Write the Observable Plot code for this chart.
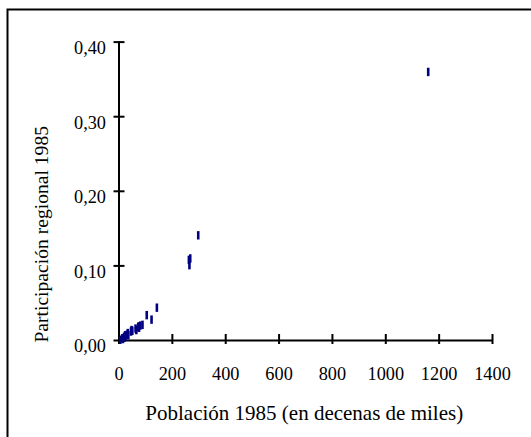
<!DOCTYPE html>
<html>
<head>
<meta charset="utf-8">
<script src="https://cdn.jsdelivr.net/npm/d3@7"></script>
<script src="https://cdn.jsdelivr.net/npm/@observablehq/plot@0.6"></script>
<style>
  html, body { margin: 0; padding: 0; background: #fff; }
  #chart { position: relative; width: 531px; height: 437px; }
  #chart svg, #chart svg text { font-family: "Liberation Serif", "Times New Roman", serif !important; }
</style>
</head>
<body>
<div id="chart"></div>
<script>
// Población 1985 (decenas de miles) and participación regional 1985
const poblacion = [1159, 297, 262, 267, 264, 142, 104, 122,
  5, 12, 15, 19, 22, 23, 24, 30, 33, 35, 45, 47, 50, 62, 65, 72, 74, 75, 80, 88];
const participacion = [0.360, 0.141, 0.108, 0.110, 0.101, 0.044, 0.034, 0.028,
  0.001, 0.003, 0.002, 0.005, 0.004, 0.007, 0.006, 0.008, 0.010, 0.007, 0.012, 0.014, 0.013, 0.016, 0.014, 0.018, 0.019, 0.017, 0.020, 0.021];

const xTicks = [0, 200, 400, 600, 800, 1000, 1200, 1400];
const yTicks = [0, 0.1, 0.2, 0.3, 0.4];
const xTitle = "Población 1985 (en decenas de miles)";
const yTitle = "Participación regional 1985";

const data = poblacion.map((p, i) => ({x: p, y: participacion[i]}));

const W = 531, H = 437;
const mL = 118.5, mR = 39, mT = 41.6, mB = 97;
const pxX = (W - mL - mR) / 1400;   // px per x unit
const pxY = (H - mT - mB) / 0.4;    // px per y unit
const serif = "Liberation Serif, Times New Roman, serif";

const dash = { draw(ctx) { ctx.rect(-1.3, -4.2, 2.6, 8.4); } };
const fmt = d => d.toFixed(2).replace(".", ",");

const plot = Plot.plot({
  width: W, height: H,
  marginLeft: mL, marginRight: mR, marginTop: mT, marginBottom: mB,
  style: "font-family: 'Liberation Serif', 'Times New Roman', serif; font-size: 18px; background: #fff; color: #000;",
  x: { domain: [0, 1400], axis: null },
  y: { domain: [0, 0.4], axis: null },
  marks: [
    // axis lines
    Plot.ruleY([0], { stroke: "#000", strokeWidth: 2 }),
    Plot.ruleX([0], { stroke: "#000", strokeWidth: 2 }),
    // crossing ticks
    Plot.ruleX(xTicks, { x: d => d, y1: -4 / pxY, y2: 6 / pxY, stroke: "#000", strokeWidth: 2 }),
    Plot.ruleY(yTicks, { y: d => d, x1: -5 / pxX, x2: 6 / pxX, stroke: "#000", strokeWidth: 2 }),
    // tick labels
    Plot.axisX(xTicks, { tickSize: 0, tickPadding: 0, dy: 34, textAnchor: "middle", tickFormat: d => String(d), label: null, fontSize: 18.3, fontFamily: serif, lineAnchor: "middle" }),
    Plot.axisY(yTicks, { tickSize: 0, tickPadding: 13, dy: 6, tickFormat: fmt, label: null, fontSize: 18.3, fontFamily: serif }),
    // axis titles
    Plot.text([xTitle], { frameAnchor: "bottom", text: d => d, dx: -1.5, dy: 73, fontSize: 21, fontFamily: serif, textAnchor: "middle", lineAnchor: "middle" }),
    Plot.text([yTitle], { frameAnchor: "left", text: d => d, dx: -77.5, dy: 43, rotate: -90, fontSize: 19.6, fontFamily: serif, textAnchor: "middle", lineAnchor: "middle" }),
    // data
    Plot.dot(data, { x: "x", y: "y", symbol: dash, fill: "#000080", stroke: "none", r: 3 })
  ]
});

document.getElementById("chart").appendChild(plot);

// outer chart-area border (left and top)
d3.select(plot).append("path")
  .attr("d", "M7.5,437 V9.5 H531")
  .attr("fill", "none")
  .attr("stroke", "#000")
  .attr("stroke-width", 2);
</script>
</body>
</html>
